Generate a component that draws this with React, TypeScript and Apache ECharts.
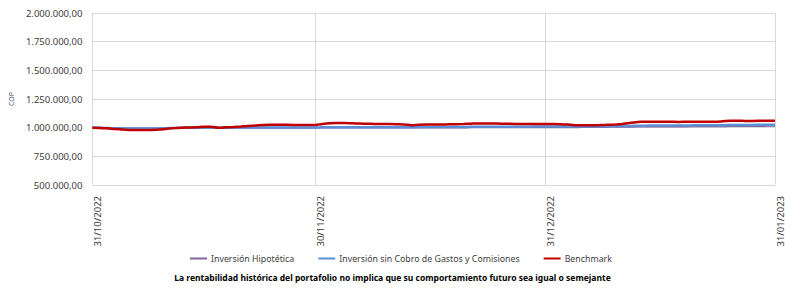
import React, { useEffect, useRef } from "react";
import * as echarts from "echarts";

const startDate = "2022-10-31";
const dayCount = 93;
const labeledDays = [0, 30, 61, 92];

// values in thousands of COP, one per calendar day from 31/10/2022 to 31/01/2023
const benchmark = [
  1000, 998, 994, 988, 983, 980, 979, 979, 980, 983,
  990, 996, 1000, 1001, 1003, 1008, 1009, 1000, 1003, 1006,
  1010, 1015, 1019, 1024, 1026, 1026, 1025, 1024, 1024, 1023,
  1024, 1032, 1038, 1040, 1040, 1038, 1036, 1034, 1033, 1031,
  1031, 1030, 1028, 1021, 1026, 1028, 1028, 1028, 1029, 1030,
  1032, 1035, 1037, 1037, 1036, 1035, 1034, 1033, 1033, 1032,
  1032, 1031, 1031, 1030, 1027, 1022, 1020, 1021, 1022, 1024,
  1026, 1029, 1038, 1046, 1051, 1052, 1052, 1052, 1051, 1050,
  1051, 1052, 1052, 1051, 1052, 1056, 1060, 1060, 1059, 1059,
  1060, 1061, 1061,
];

const sinCobro = [
  1000, 999, 997, 995, 994, 993, 993, 993, 993, 994,
  996, 998, 999, 1000, 1000, 1001, 1001, 1000, 1000, 1001,
  1001, 1001, 1002, 1002, 1002, 1002, 1002, 1002, 1002, 1002,
  1002, 1003, 1003, 1003, 1003, 1003, 1003, 1003, 1004, 1004,
  1004, 1004, 1004, 1004, 1005, 1005, 1005, 1005, 1006, 1006,
  1006, 1007, 1007, 1007, 1008, 1008, 1008, 1009, 1009, 1009,
  1010, 1010, 1010, 1010, 1010, 1010, 1011, 1011, 1012, 1012,
  1013, 1014, 1015, 1016, 1017, 1018, 1018, 1018, 1019, 1019,
  1019, 1020, 1020, 1020, 1021, 1022, 1023, 1024, 1024, 1024,
  1025, 1025, 1026,
];

const hipotetica = [
  1000, 999, 996, 994, 993, 992, 992, 992, 992, 993,
  995, 997, 998, 999, 999, 1000, 1000, 999, 999, 1000,
  1000, 1000, 1000, 1000, 1000, 1000, 1000, 1000, 1000, 1000,
  1000, 1001, 1001, 1001, 1001, 1001, 1001, 1001, 1001, 1001,
  1001, 1001, 1001, 1001, 1002, 1002, 1002, 1002, 1002, 1002,
  1002, 1003, 1003, 1003, 1003, 1003, 1003, 1004, 1004, 1004,
  1004, 1004, 1004, 1004, 1004, 1004, 1005, 1005, 1006, 1006,
  1007, 1007, 1008, 1009, 1010, 1010, 1010, 1011, 1011, 1011,
  1011, 1012, 1012, 1012, 1012, 1013, 1014, 1014, 1015, 1015,
  1015, 1016, 1016,
];

const seriesNames = [
  "Inversión Hipotética",
  "Inversión sin Cobro de Gastos y Comisiones",
  "Benchmark",
];
const seriesColors = ["#8064A2", "#5B8FD6", "#C00000"];
const footnote =
  "La rentabilidad histórica del portafolio no implica que su comportamiento futuro sea igual o semejante";

function buildDates(): string[] {
  const out: string[] = [];
  const d0 = new Date(startDate + "T12:00:00Z");
  for (let i = 0; i < dayCount; i++) {
    const d = new Date(d0.getTime() + i * 86400000);
    const dd = String(d.getUTCDate()).padStart(2, "0");
    const mm = String(d.getUTCMonth() + 1).padStart(2, "0");
    out.push(`${dd}/${mm}/${d.getUTCFullYear()}`);
  }
  return out;
}

function fmtCOP(v: number): string {
  const s = Math.round(v).toString().replace(/\B(?=(\d{3})+(?!\d))/g, ".");
  return s + ",00";
}

export default function App() {
  const ref = useRef<HTMLDivElement>(null);
  useEffect(() => {
    if (!ref.current) return;
    const chart = echarts.init(ref.current, null, { renderer: "svg" });
    const dates = buildDates();
    const showIdx = (i: number) => labeledDays.includes(i);
    const font = "'Noto Sans', sans-serif";
    const data = [hipotetica, sinCobro, benchmark];
    const widths = [2, 2.5, 2.5];
    chart.setOption({
      animation: false,
      textStyle: { fontFamily: font },
      grid: { left: 88, right: 8, top: 13, bottom: 103, containLabel: false },
      legend: {
        top: 249,
        left: 185,
        itemWidth: 17,
        itemHeight: 2,
        itemGap: 24,
        icon: "rect",
        textStyle: { fontSize: 8.8, color: "#404040", fontFamily: font, padding: [0, 0, 0, -1] },
        data: seriesNames,
      },
      graphic: [
        {
          type: "text",
          left: "center",
          top: 273,
          style: {
            text: footnote,
            fontSize: 8.5,
            fontWeight: "bold",
            fill: "#000",
            fontFamily: font,
          },
        },
      ],
      xAxis: {
        type: "category",
        boundaryGap: false,
        data: dates,
        axisLine: { show: false },
        axisTick: { show: false },
        axisLabel: {
          interval: (i: number) => showIdx(i),
          rotate: 90,
          margin: 11,
          fontSize: 9.5,
          color: "#404040",
          verticalAlign: "top",
        },
        splitLine: {
          show: true,
          interval: (i: number) => showIdx(i),
          lineStyle: { color: "#D9D9D9", width: 1 },
        },
      },
      yAxis: {
        type: "value",
        min: 500000,
        max: 2000000,
        interval: 250000,
        name: "COP",
        nameLocation: "middle",
        nameGap: 74,
        nameTextStyle: { fontSize: 7, color: "#44546A" },
        axisLine: { show: false },
        axisTick: { show: false },
        axisLabel: {
          formatter: (v: number) => fmtCOP(v),
          fontSize: 9.5,
          color: "#404040",
          margin: 10,
        },
        splitLine: { lineStyle: { color: "#D9D9D9", width: 1 } },
      },
      series: seriesNames.map((name, k) => ({
        name,
        type: "line",
        data: data[k].map((v) => v * 1000),
        smooth: 0.3,
        showSymbol: false,
        symbol: "none",
        lineStyle: { color: seriesColors[k], width: widths[k] },
        itemStyle: { color: seriesColors[k] },
        z: 2 + k,
      })),
    });
    return () => chart.dispose();
  }, []);
  return (
    <div
      ref={ref}
      style={{ position: "fixed", left: 0, top: 0, width: 785, height: 288, background: "#fff" }}
    />
  );
}
